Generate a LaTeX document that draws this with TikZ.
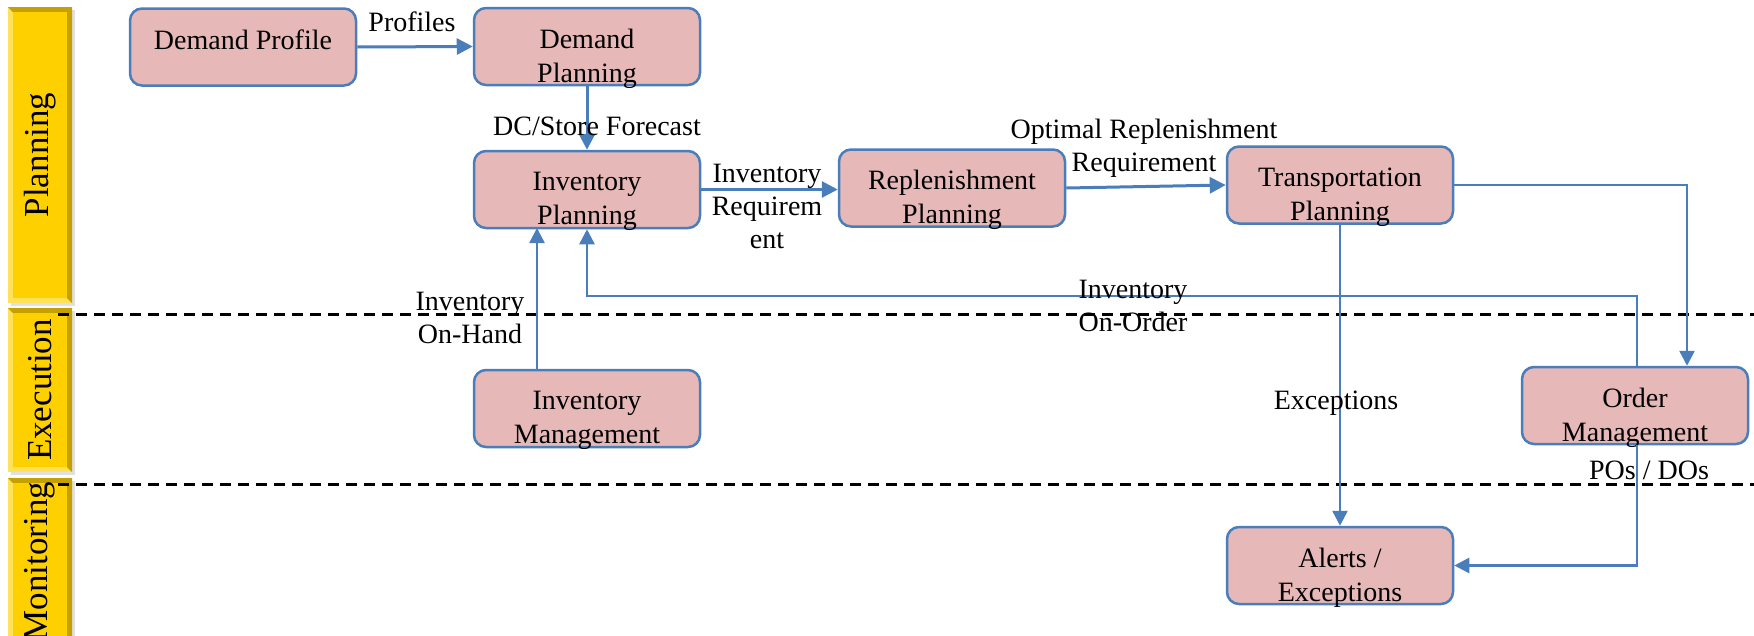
\documentclass[tikz,border=0pt]{standalone}
\usepackage{fontspec}
\setmainfont{Liberation Serif}
\usetikzlibrary{arrows.meta,calc}
\definecolor{boxfill}{RGB}{230,184,183}
\definecolor{flowblue}{RGB}{74,126,187}
\definecolor{gold}{RGB}{255,208,0}
\definecolor{goldlight}{RGB}{255,226,90}
\definecolor{golddark}{RGB}{196,160,0}
\tikzset{
  box/.style={draw=flowblue, fill=boxfill, line width=2.5pt, rounded corners=12pt,
    minimum width=226pt, minimum height=77pt, inner sep=0pt},
  boxtext/.style={font=\fontsize{28}{34}\selectfont, align=center, inner sep=0pt},
  lbl/.style={font=\fontsize{28}{33}\selectfont, align=center, inner sep=0pt},
  flow/.style={draw=flowblue, line width=3pt, -{Triangle[length=16pt,width=16pt]}},
  thinflow/.style={draw=flowblue, line width=2.5pt, -{Triangle[length=15pt,width=15pt]}},
  lanetext/.style={font=\fontsize{35}{38}\selectfont, rotate=90, inner sep=0pt},
  divider/.style={draw=black, line width=3pt, dash pattern=on 11pt off 7pt},
}
\begin{document}
\begin{tikzpicture}[x=1pt,y=-1pt]
\useasboundingbox (0,0) rectangle (1754,635);

% swimlane bars: soft shadow, light lower-left bevel, dark upper-right bevel
\foreach \ya/\yb/\lname in {7/303/Planning, 308/472/Execution, 478/645/Monitoring}{
  \fill[black!12] (11,\ya+3) rectangle (75,\yb+3);
  \fill[goldlight] (8,\ya) rectangle (72,\yb);
  \fill[golddark] (8,\ya) -- (72,\ya) -- (72,\yb) -- (67,\yb-5) -- (67,\ya+5) -- (13,\ya+5) -- cycle;
  \fill[gold] (13,\ya+5) rectangle (67,\yb-5);
  \node[lanetext] (lane\lname) at (40,{(\ya+\yb)/2}) {\lname};
}

% lane dividers
\draw[divider] (58,314) -- (1754,314);
\draw[divider] (58,484) -- (1754,484);

% process boxes
\node[box] (dprof)  at (243,47)    {};
\node[box] (dplan)  at (587,46.5)  {};
\node[box] (invp)   at (587,189.5) {};
\node[box] (repl)   at (952,188)   {};
\node[box] (trans)  at (1340,185)  {};
\node[box] (invm)   at (587,408.5) {};
\node[box] (omgmt)  at (1635,405.5){};
\node[box] (alerts) at (1340,565.5){};

\node[boxtext] (dprof-t)  at ([yshift=-33pt]dprof.north)  {Demand Profile};
\node[boxtext] (dplan-t)  at ([yshift=-52pt]dplan.north)  {Demand\\Planning};
\node[boxtext] (invp-t)   at ([yshift=-52pt]invp.north)   {Inventory\\Planning};
\node[boxtext] (repl-t)   at ([yshift=-52pt]repl.north)   {Replenishment\\Planning};
\node[boxtext] (trans-t)  at ([yshift=-52pt]trans.north)  {Transportation\\Planning};
\node[boxtext] (invm-t)   at ([yshift=-52pt]invm.north)   {Inventory\\Management};
\node[boxtext] (omgmt-t)  at ([yshift=-52pt]omgmt.north)  {Order\\Management};
\node[boxtext] (alerts-t) at ([yshift=-52pt]alerts.north) {Alerts /\\Exceptions};

% connector bend points
\coordinate (tcorner) at (1687,185);
\coordinate (onorder) at (1637,296);
\coordinate (onhandA) at (537,228);
\coordinate (onhandB) at (537,370);

% connectors
\draw[flow] (dprof.east) -- (dplan.west);
\draw[flow] (dplan.south) -- (invp.north);
\draw[flow] (invp.east) -- (invp.east -| repl.west);
\draw[flow] (repl.east) -- (trans.west);
\draw[thinflow] (trans.east) -- (tcorner) -- (tcorner |- omgmt.north);
\draw[thinflow] (trans.south) -- (alerts.north);
\draw[thinflow] (onorder |- omgmt.north) -- (onorder) -- (onorder -| invp.south) -- (invp.south);
\draw[thinflow] (onhandB) -- (onhandA);
\draw[thinflow] (onorder |- omgmt.south) |- (alerts.east);

% connector labels
\node[lbl] (l-prof)  at (412,22)  {Profiles};
\node[lbl] (l-fc)    at (597,126) {DC/Store Forecast};
\node[lbl] (l-ireq)  at (767,206) {Inventory\\Requirem\\ent};
\node[lbl] (l-opt)   at (1144,148){Optimal Replenishment\\Requirement};
\node[lbl] (l-onord) at (1133,306){Inventory\\On-Order};
\node[lbl] (l-onh)   at (470,318) {Inventory\\On-Hand};
\node[lbl] (l-exc)   at (1336,403){Exceptions};
\node[lbl] (l-pos)   at (1649,470){POs / DOs};
\end{tikzpicture}
\end{document}
